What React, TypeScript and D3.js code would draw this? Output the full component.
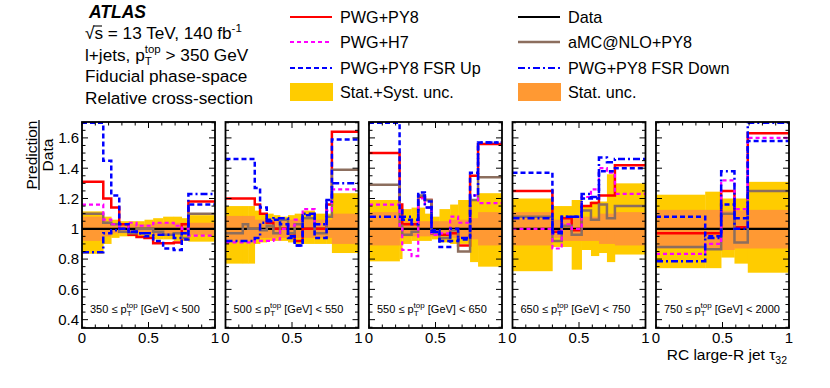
import React from 'react';
import * as d3 from 'd3';

// ---------------- data ----------------
const ptLow = ['350', '500', '550', '650', '750'];
const ptHigh = ['500', '550', '650', '750', '2000'];

const binEdges = [
  [0, 0.16, 0.22, 0.28, 0.35, 0.41, 0.47, 0.535, 0.61, 0.69, 0.75, 0.8, 1.0],
  [0, 0.13, 0.17, 0.22, 0.26, 0.31, 0.36, 0.41, 0.47, 0.52, 0.58, 0.67, 0.76, 0.8, 1.0],
  [0, 0.23, 0.25, 0.32, 0.37, 0.42, 0.47, 0.53, 0.61, 0.67, 0.76, 0.82, 1.0],
  [0, 0.3, 0.37, 0.445, 0.52, 0.59, 0.65, 0.71, 0.77, 1.0],
  [0, 0.37, 0.49, 0.59, 0.69, 1.0],
];

const pwgPy8 = [
  [1.31, 1.2, 1.14, 1.03, 0.96, 0.945, 0.94, 0.905, 0.905, 0.91, 1.03, 1.18],
  [1.2, 1.2, 1.2, 1.16, 1.1, 1.04, 1.0, 1.0, 0.97, 0.92, 1.0, 1.0, 1.16, 1.64],
  [1.5, 1.16, 1.03, 1.03, 1.21, 1.19, 0.97, 0.96, 0.97, 0.89, 1.35, 1.56],
  [1.25, 0.98, 1.07, 0.99, 1.15, 1.17, 1.22, 1.22, 1.42],
  [0.97, 0.97, 1.25, 1.01, 1.63],
];
const pwgH7 = [
  [1.16, 1.06, 1.03, 1.0, 1.04, 1.02, 1.02, 1.04, 1.04, 1.02, 1.0, 0.955],
  [0.91, 0.91, 0.91, 0.92, 0.92, 0.92, 0.93, 1.0, 1.02, 1.06, 1.13, 1.03, 1.12, 1.26],
  [1.16, 1.02, 0.86, 0.82, 1.2, 1.14, 0.96, 0.97, 1.08, 1.04, 1.22, 1.17],
  [1.0, 0.87, 1.03, 1.0, 1.21, 1.26, 1.4, 1.37, 1.23],
  [0.835, 0.9, 1.32, 1.13, 1.6],
];
const fsrUp = [
  [1.7, 1.45, 1.22, 1.03, 0.98, 0.97, 0.95, 0.92, 0.87, 0.86, 0.93, 1.16],
  [1.46, 1.46, 1.46, 1.27, 1.14, 1.05, 1.06, 1.03, 0.94, 0.89, 1.09, 0.94, 1.19, 1.59],
  [1.7, 1.12, 1.06, 1.06, 1.24, 1.18, 0.99, 0.88, 0.92, 0.93, 1.37, 1.57],
  [1.37, 0.98, 1.08, 1.08, 1.2, 1.2, 1.38, 1.38, 1.4],
  [1.08, 0.95, 1.16, 1.07, 1.58],
];
const fsrDown = [
  [0.845, 0.97, 0.99, 1.0, 0.98, 0.97, 0.97, 0.96, 0.96, 0.94, 0.97, 1.23],
  [0.92, 0.92, 0.92, 0.94, 1.04, 1.06, 1.07, 1.07, 0.95, 0.89, 1.1, 1.03, 1.18, 1.3],
  [1.08, 1.08, 1.08, 1.03, 1.22, 1.14, 0.98, 0.92, 1.0, 0.94, 1.22, 1.57],
  [1.07, 0.97, 1.08, 1.08, 1.23, 1.21, 1.47, 1.44, 1.46],
  [0.785, 0.94, 1.38, 1.0, 1.7],
];
const amcNlo = [
  [1.1, 1.04, 1.03, 0.98, 0.97, 1.0, 1.0, 0.98, 0.96, 0.97, 0.94, 1.1],
  [0.97, 1.03, 1.0, 1.0, 0.99, 1.02, 0.97, 1.06, 0.97, 1.03, 1.07, 0.97, 1.08, 1.39],
  [1.29, 1.02, 0.96, 0.98, 1.22, 1.19, 0.97, 0.94, 0.99, 0.85, 1.19, 1.34],
  [1.08, 0.92, 1.02, 0.96, 1.12, 1.06, 1.16, 1.07, 1.15],
  [0.88, 0.865, 1.1, 0.91, 1.25],
];
const systHi = [
  [1.115, 1.08, 1.06, 1.05, 1.05, 1.05, 1.06, 1.07, 1.08, 1.08, 1.07, 1.09],
  [1.15, 1.15, 1.15, 1.12, 1.1, 1.1, 1.09, 1.08, 1.09, 1.1, 1.12, 1.1, 1.1, 1.235],
  [1.19, 1.14, 1.13, 1.14, 1.14, 1.1, 1.08, 1.13, 1.16, 1.19, 1.19, 1.235],
  [1.2, 1.15, 1.15, 1.19, 1.15, 1.18, 1.18, 1.36, 1.3],
  [1.225, 1.245, 1.2, 1.2, 1.31],
];
const systLo = [
  [0.835, 0.9, 0.94, 0.95, 0.95, 0.95, 0.94, 0.93, 0.93, 0.92, 0.92, 0.915],
  [0.77, 0.77, 0.77, 0.9, 0.91, 0.92, 0.92, 0.92, 0.91, 0.9, 0.9, 0.9, 0.9, 0.84],
  [0.785, 0.8, 0.9, 0.92, 0.92, 0.92, 0.93, 0.91, 0.9, 0.9, 0.78, 0.75],
  [0.72, 0.88, 0.88, 0.73, 0.86, 0.82, 0.84, 0.78, 0.83],
  [0.74, 0.74, 0.81, 0.77, 0.71],
];
const statHi = [
  [1.08, 1.05, 1.03, 1.03, 1.03, 1.03, 1.03, 1.04, 1.04, 1.04, 1.04, 1.04],
  [1.085, 1.085, 1.085, 1.06, 1.06, 1.06, 1.06, 1.06, 1.06, 1.06, 1.06, 1.06, 1.06, 1.1],
  [1.11, 1.06, 1.05, 1.05, 1.05, 1.05, 1.05, 1.05, 1.06, 1.06, 1.07, 1.11],
  [1.11, 1.06, 1.08, 1.08, 1.08, 1.08, 1.1, 1.1, 1.11],
  [1.125, 1.125, 1.12, 1.12, 1.125],
];
const statLo = [
  [0.92, 0.95, 0.97, 0.97, 0.97, 0.97, 0.97, 0.96, 0.96, 0.96, 0.96, 0.96],
  [0.915, 0.915, 0.915, 0.94, 0.94, 0.94, 0.94, 0.94, 0.94, 0.94, 0.94, 0.94, 0.94, 0.9],
  [0.89, 0.94, 0.95, 0.95, 0.95, 0.95, 0.95, 0.95, 0.94, 0.94, 0.93, 0.89],
  [0.89, 0.94, 0.92, 0.92, 0.92, 0.92, 0.9, 0.9, 0.89],
  [0.87, 0.87, 0.86, 0.87, 0.87],
];

const yTickValues = [0.4, 0.6, 0.8, 1.0, 1.2, 1.4, 1.6];
const xTickValues = [0, 0.5, 1];

// ---------------- layout ----------------
const W = 830;
const H = 388;
const TOP = 122;
const BOTTOM = 328;
const PANEL_X0 = 82;
const PANEL_STEP = 143.5;
const PANEL_W = 133;
const FONT = "'Liberation Sans', Arial, Helvetica, sans-serif";

const YELLOW = '#ffcc00';
const ORANGE = '#ff9933';
const BROWN = '#8c6e5e';

const y = d3.scaleLinear().domain([0.345, 1.705]).range([BOTTOM, TOP]);

type SeriesStyle = { data: number[][]; color: string; width: number; dash?: string };
const seriesStyles: SeriesStyle[] = [
  { data: pwgPy8, color: '#ff0000', width: 2.5 },
  { data: amcNlo, color: BROWN, width: 2.5 },
  { data: pwgH7, color: '#ff00ff', width: 2.2, dash: '4,3' },
  { data: fsrUp, color: '#0000ff', width: 2.5, dash: '5,3' },
  { data: fsrDown, color: '#0000ff', width: 2.5, dash: '7,3,2,3' },
];

function Panel({ idx }: { idx: number }) {
  const left = PANEL_X0 + idx * PANEL_STEP;
  const x = d3.scaleLinear().domain([0, 1]).range([left, left + PANEL_W]);
  const edges = binEdges[idx];
  const clipId = `clip-${idx}`;
  const stepLine = (vals: number[]) => {
    const pts: [number, number][] = edges.map((e, i) => [e, vals[Math.min(i, vals.length - 1)]]);
    return d3
      .line<[number, number]>()
      .x((d) => x(d[0]))
      .y((d) => y(d[1]))
      .curve(d3.curveStepAfter)(pts) as string;
  };
  const bins = d3.range(edges.length - 1);
  const yMinor = d3.range(0.35, 1.701, 0.05);
  const xMinor = d3.range(0, 1.001, 0.1);
  return (
    <g>
      <defs>
        <clipPath id={clipId}>
          <rect x={left} y={TOP} width={PANEL_W} height={BOTTOM - TOP} />
        </clipPath>
      </defs>
      <g clipPath={`url(#${clipId})`}>
        {bins.map((i) => (
          <rect
            key={`y${i}`}
            x={x(edges[i])}
            width={x(edges[i + 1]) - x(edges[i]) + 0.3}
            y={y(systHi[idx][i])}
            height={y(systLo[idx][i]) - y(systHi[idx][i])}
            fill={YELLOW}
          />
        ))}
        {bins.map((i) => (
          <rect
            key={`o${i}`}
            x={x(edges[i])}
            width={x(edges[i + 1]) - x(edges[i]) + 0.3}
            y={y(statHi[idx][i])}
            height={y(statLo[idx][i]) - y(statHi[idx][i])}
            fill={ORANGE}
          />
        ))}
        <line x1={x(0)} x2={x(1)} y1={y(1)} y2={y(1)} stroke="#000" strokeWidth={2.2} />
        {seriesStyles.map((s, k) => (
          <path
            key={k}
            d={stepLine(s.data[idx])}
            fill="none"
            stroke={s.color}
            strokeWidth={s.width}
            strokeDasharray={s.dash}
          />
        ))}
      </g>
      {/* ticks */}
      {yMinor.map((v, i) => {
        const major = Math.abs(Math.round(v * 10) / 10 - v) < 1e-6 && Math.round(v * 10) % 2 === 0;
        const len = major ? 6 : 3.5;
        return (
          <g key={`yt${i}`} stroke="#000" strokeWidth={1}>
            <line x1={left} x2={left + len} y1={y(v)} y2={y(v)} />
            <line x1={left + PANEL_W} x2={left + PANEL_W - len} y1={y(v)} y2={y(v)} />
          </g>
        );
      })}
      {xMinor.map((v, i) => {
        const major = Math.abs(v - 0.5) < 1e-6;
        const len = major ? 6 : 3.5;
        return (
          <g key={`xt${i}`} stroke="#000" strokeWidth={1}>
            <line x1={x(v)} x2={x(v)} y1={BOTTOM} y2={BOTTOM - len} />
            <line x1={x(v)} x2={x(v)} y1={TOP} y2={TOP + len} />
          </g>
        );
      })}
      <rect
        x={left}
        y={TOP}
        width={PANEL_W}
        height={BOTTOM - TOP}
        fill="none"
        stroke="#000"
        strokeWidth={1.8}
      />
      {xTickValues.map((v) => (
        <text
          key={`xl${v}`}
          x={x(v)}
          y={343}
          textAnchor="middle"
          fontSize={15}
          fontFamily={FONT}
        >
          {v === 0.5 ? '0.5' : String(v)}
        </text>
      ))}
      <text x={left + 8} y={313} fontSize={11} fontFamily={FONT} fill="#000">
        {`${ptLow[idx]} ≤ p`}
        <tspan fontSize={8} dy={3}>T</tspan>
        <tspan fontSize={8} dx={-4.9} dy={-8}>top</tspan>
        <tspan dy={5}>{` [GeV] < ${ptHigh[idx]}`}</tspan>
      </text>
    </g>
  );
}

function LegendLine({ x, yy, color, width, dash, label }: any) {
  return (
    <g>
      <line x1={x} x2={x + 42} y1={yy} y2={yy} stroke={color} strokeWidth={width} strokeDasharray={dash} />
      <text x={x + 50} y={yy + 5.5} fontSize={16.2} fontFamily={FONT}>
        {label}
      </text>
    </g>
  );
}
function LegendBox({ x, yy, color, label }: any) {
  return (
    <g>
      <rect x={x} y={yy - 9} width={43} height={18} fill={color} />
      <text x={x + 50} y={yy + 5.5} fontSize={16.2} fontFamily={FONT}>
        {label}
      </text>
    </g>
  );
}

export default function App() {
  return (
    <svg
      width={W}
      height={H}
      style={{ position: 'absolute', left: 0, top: 0, background: '#fff' }}
      fontFamily={FONT}
    >
      <rect x={0} y={0} width={W} height={H} fill="#fff" />
      {/* header */}
      <text x={89} y={18} fontSize={17.5} fontWeight="bold" fontStyle="italic">
        ATLAS
      </text>
      <text x={85} y={39} fontSize={17.2}>
        √<tspan>s = 13 TeV, 140 fb</tspan>
        <tspan fontSize={11.5} dy={-7}>-1</tspan>
      </text>
      <line x1={93.5} x2={102} y1={26} y2={26} stroke="#000" strokeWidth={1.1} />
      <text x={85} y={61} fontSize={17.2}>
        l+jets, p<tspan fontSize={11.5} dy={4}>T</tspan>
        <tspan fontSize={11.5} dx={-7} dy={-12}>top</tspan>
        <tspan dy={8}> &gt; 350 GeV</tspan>
      </text>
      <text x={85} y={82} fontSize={17.2}>
        Fiducial phase-space
      </text>
      <text x={85} y={104} fontSize={17.2}>
        Relative cross-section
      </text>

      {/* legend */}
      <LegendLine x={290} yy={17} color="#ff0000" width={2} label="PWG+PY8" />
      <LegendLine x={290} yy={42} color="#ff00ff" width={2} dash="4,3" label="PWG+H7" />
      <LegendLine x={290} yy={68} color="#0000ff" width={2} dash="5,3" label="PWG+PY8 FSR Up" />
      <LegendBox x={290} yy={92} color={YELLOW} label="Stat.+Syst. unc." />
      <LegendLine x={518} yy={17} color="#000" width={2} label="Data" />
      <LegendLine x={518} yy={42} color={BROWN} width={2.5} label="aMC@NLO+PY8" />
      <LegendLine x={518} yy={68} color="#0000ff" width={2} dash="7,3,2,3" label="PWG+PY8 FSR Down" />
      <LegendBox x={518} yy={92} color={ORANGE} label="Stat. unc." />

      {/* y axis labels */}
      {yTickValues.map((v) => (
        <text
          key={`yl${v}`}
          x={79}
          y={y(v)}
          dy="0.36em"
          textAnchor="end"
          fontSize={15}
        >
          {Number.isInteger(v) ? String(v) : v.toFixed(1)}
        </text>
      ))}
      <g transform="translate(37,155) rotate(-90)">
        <text x={0} y={0} textAnchor="middle" fontSize={15.5}>
          Prediction
        </text>
      </g>
      <line x1={39} x2={39} y1={120} y2={190} stroke="#000" strokeWidth={1.3} />
      <g transform="translate(53,155) rotate(-90)">
        <text x={0} y={0} textAnchor="middle" fontSize={15.5}>
          Data
        </text>
      </g>

      {[0, 1, 2, 3, 4].map((i) => (
        <Panel key={i} idx={i} />
      ))}

      {/* x axis title */}
      <text x={787} y={360} textAnchor="end" fontSize={15.5}>
        RC large-R jet τ<tspan fontSize={10.5} dy={4}>32</tspan>
      </text>
    </svg>
  );
}
